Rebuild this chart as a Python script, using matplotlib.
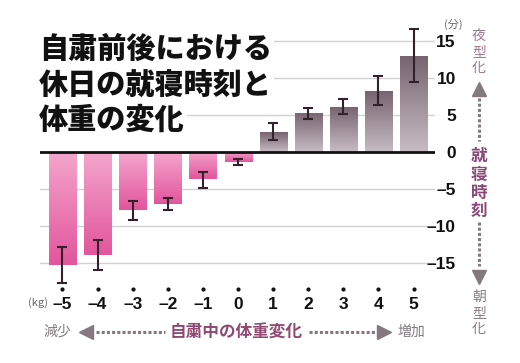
import numpy as np
import matplotlib
matplotlib.use('Agg')
import matplotlib.pyplot as plt
from matplotlib.colors import LinearSegmentedColormap

plt.rcParams['font.family'] = ['Noto Sans CJK JP', 'DejaVu Sans']

# data
weight_change = [-5, -4, -3, -2, -1, 0, 1, 2, 3, 4, 5]
weight_labels = ['–5', '–4', '–3', '–2', '–1', '0', '1', '2', '3', '4', '5']
bedtime_shift = [-15.3, -13.9, -7.8, -7.0, -3.7, -1.4, 2.7, 5.3, 6.1, 8.3, 13.0]
err_low = [-17.7, -15.9, -9.2, -7.9, -4.9, -1.8, 1.6, 4.5, 5.1, 6.3, 9.4]
err_high = [-12.8, -11.9, -6.6, -6.2, -2.7, -1.0, 3.9, 6.0, 7.1, 10.3, 16.6]
y_ticks = [15, 10, 5, 0, -5, -10, -15]
y_labels = ['15', '10', '5', '0', '–5', '–10', '–15']

title_lines = ['自粛前後における', '休日の就寝時刻と', '体重の変化']

num_font = ['Liberation Sans Narrow', 'Liberation Sans', 'DejaVu Sans']

W, H = 520, 363
fig = plt.figure(figsize=(W / 100, H / 100), dpi=100)
fig.patch.set_facecolor('white')

# axes box in pixels: x 40..435, y 26..285
ax = fig.add_axes([40 / W, (H - 285.2) / H, 395 / W, 259 / H])
ax.set_xlim(-5.64, 5.61)
ax.set_ylim(-18, 17)
for s in ax.spines.values():
    s.set_visible(False)

for t in y_ticks:
    if t != 0:
        ax.axhline(t, color='#d2d2d2', lw=1.0, zorder=0)
ax.axhline(0, color='#111111', lw=2.0, zorder=4)

width = 0.77
bars = ax.bar(weight_change, bedtime_shift, width=width, color='none', edgecolor='none', zorder=2)

def gradient_fill(axis, bar, c_top, c_bottom):
    x0 = bar.get_x()
    x1 = x0 + bar.get_width()
    y_a = bar.get_y()
    y_b = y_a + bar.get_height()
    cmap = LinearSegmentedColormap.from_list('g', [c_top, c_bottom])
    grad = np.linspace(0, 1, 256).reshape(-1, 1)
    im = axis.imshow(grad, cmap=cmap, aspect='auto', origin='upper',
                     extent=[x0, x1, min(y_a, y_b), max(y_a, y_b)], zorder=2)
    im.set_clip_path(bar)

for bar, v in zip(bars, bedtime_shift):
    if v < 0:
        gradient_fill(ax, bar, '#f4a6cd', '#e2559c')
    else:
        gradient_fill(ax, bar, '#76636f', '#c8bcc3')

yerr = [np.array(bedtime_shift) - np.array(err_low), np.array(err_high) - np.array(bedtime_shift)]
ax.errorbar(weight_change, bedtime_shift, yerr=yerr, fmt='none', ecolor='#33222c',
            elinewidth=1.5, capsize=3.8, capthick=1.5, zorder=5)

ax.set_xlim(-5.64, 5.61)
ax.set_ylim(-18, 17)

# x ticks with little dots above
ax.set_xticks(weight_change)
ax.set_xticklabels(weight_labels, fontsize=12.5, fontweight='bold', family=num_font, color='#111111')
ax.tick_params(axis='x', length=0, pad=8.5)
trans = ax.get_xaxis_transform()
ax.scatter(weight_change, [-0.016] * len(weight_change), s=4, color='#111111',
           transform=trans, clip_on=False, zorder=6)

# y ticks on right side
ax.yaxis.tick_right()
ax.set_yticks(y_ticks)
ax.set_yticklabels(y_labels, fontsize=12.5, fontweight='bold', family=num_font, color='#111111')
ax.tick_params(axis='y', length=0, pad=15)
for lab in ax.get_yticklabels():
    lab.set_horizontalalignment('right')

# overlay in pixel coordinates for the annotations
ov = fig.add_axes([0, 0, 1, 1])
ov.set_xlim(0, W)
ov.set_ylim(H, 0)
ov.axis('off')
ov.patch.set_alpha(0)

for i, line in enumerate(title_lines):
    ov.text(39, [49, 86, 120][i], line, fontsize=21, fontweight='heavy', color='#111111',
            ha='left', va='center',
            bbox=dict(facecolor='white', edgecolor='none', pad=1.5))

grey = '#85797f'
ov.text(38, 303, '(kg)', fontsize=8, color='#6f6a6d', ha='center', va='center')
ov.text(453, 24, '(分)', fontsize=8, color='#6f6a6d', ha='center', va='center')

# right column: bedtime direction
cx = 479
for ch, y in zip('夜型化', [36, 52, 68]):
    ov.text(cx, y, ch, fontsize=10, color='#9c7890', ha='center', va='center')
ov.plot([cx], [89], marker='^', markersize=10, color=grey, linestyle='none')
ov.plot([cx, cx], [98, 141], color=grey, lw=2.2, linestyle=(0, (1, 0.7)))
for ch, y in zip('就寝時刻', [156, 175, 193, 211]):
    ov.text(cx, y, ch, fontsize=12, fontweight='bold', color='#8a4777', ha='center', va='center')
ov.plot([cx, cx], [222, 266], color=grey, lw=2.2, linestyle=(0, (1, 0.7)))
ov.plot([cx], [277], marker='v', markersize=10, color=grey, linestyle='none')
for ch, y in zip('朝型化', [297, 313, 329]):
    ov.text(cx, y, ch, fontsize=10, color='#8a7d86', ha='center', va='center')

# bottom row: weight direction
by = 332
ov.text(57, by, '減少', fontsize=10, color='#7f7a7d', ha='center', va='center')
ov.plot([86], [by], marker='<', markersize=10, color=grey, linestyle='none')
ov.plot([96, 165], [by, by], color=grey, lw=2.2, linestyle=(0, (1, 0.7)))
ov.text(236, by, '自粛中の体重変化', fontsize=12, fontweight='bold', color='#8f4a72',
        ha='center', va='center')
ov.plot([309, 376], [by, by], color=grey, lw=2.2, linestyle=(0, (1, 0.7)))
ov.plot([384], [by], marker='>', markersize=10, color=grey, linestyle='none')
ov.text(411, by, '増加', fontsize=10, color='#7f7a7d', ha='center', va='center')

fig.savefig('out.png', dpi=100)
